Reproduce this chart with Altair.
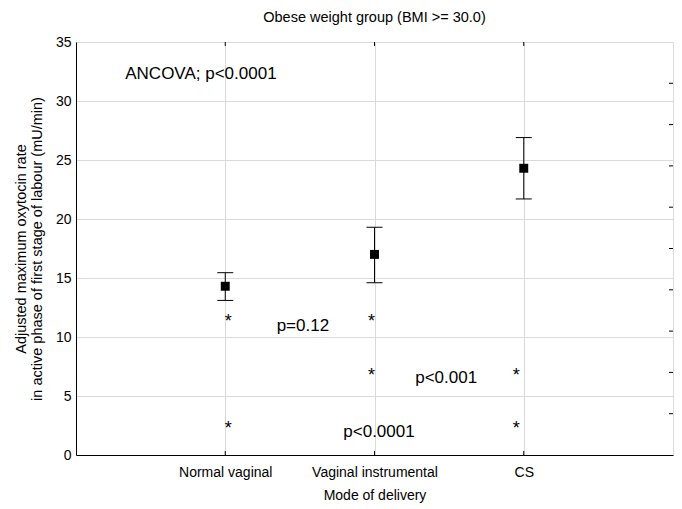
import altair as alt
import pandas as pd

# ---------------- data ----------------
categories = ["Normal vaginal", "Vaginal instrumental", "CS"]
cat_pos = [1, 2, 3]
means = [14.3, 17.0, 24.3]
lower_ci = [13.1, 14.6, 21.7]
upper_ci = [15.45, 19.3, 26.9]

star_x = [1.02, 1.02, 1.98, 1.98, 2.95, 2.95]
star_y = [11.7, 2.6, 11.7, 7.15, 7.15, 2.6]

p_text = ["p=0.12", "p<0.001", "p<0.0001"]
p_x = [1.52, 2.48, 2.03]
p_y = [10.5, 6.1, 1.55]

ancova_text = ["ANCOVA; p<0.0001"]
ancova_x = [0.33]
ancova_y = [31.85]

y_tick_values = [0, 5, 10, 15, 20, 25, 30, 35]
right_tick_values = [3.5, 7.0, 10.5, 14.0, 17.5, 21.0, 24.5, 28.0, 31.5]

title_text = "Obese weight group (BMI >= 30.0)"
x_title = "Mode of delivery"
y_title = ["Adjusted maximum oxytocin rate",
           "in active phase of first stage of labour (mU/min)"]

# ---------------- layout / style ----------------
W, H = 597, 413
FONT = "Liberation Sans"
GRID = "#dadada"

label_expr = " : ".join(
    f"datum.value == {p} ? '{c}'" for p, c in zip(cat_pos, categories)
) + " : ''"

x_axis = alt.Axis(values=cat_pos, labelExpr=label_expr, title=x_title,
                  grid=True, gridColor=GRID, gridWidth=1, ticks=False,
                  domainColor="black", labelPadding=10, labelFontSize=14,
                  labelFont=FONT, labelColor="black", titleFont=FONT,
                  titleFontSize=14, titleFontWeight="normal", titleColor="black",
                  titleBaseline="top", titleY=33, labelFlush=False)
y_axis = alt.Axis(values=y_tick_values, title=y_title, grid=True,
                  gridColor=GRID, gridWidth=1, ticks=False, domainColor="black",
                  labelPadding=5, labelFontSize=14, labelFont=FONT,
                  labelColor="black", titleFont=FONT, titleFontSize=14.5,
                  titleFontWeight="normal", titleColor="black",
                  titleAngle=-90, titleBaseline="top", titleAlign="center",
                  titleX=-62, titleY=H / 2, titleLineHeight=16, labelFlush=False)

x_scale = alt.Scale(domain=[0, 4], nice=False, zero=False)
y_scale = alt.Scale(domain=[0, 35], nice=False, zero=False)


def X(field="x"):
    return alt.X(f"{field}:Q", scale=x_scale, axis=x_axis)


def Y(field="y"):
    return alt.Y(f"{field}:Q", scale=y_scale, axis=y_axis)


pts = pd.DataFrame({"x": cat_pos, "y": means, "lo": lower_ci, "hi": upper_ci})
stars = pd.DataFrame({"x": star_x, "y": star_y})
ptxt = pd.DataFrame({"x": p_x, "y": p_y, "t": p_text})
anc = pd.DataFrame({"x": ancova_x, "y": ancova_y, "t": ancova_text})
rticks = pd.DataFrame({"y": right_tick_values})
cticks = pd.DataFrame({"x": cat_pos})

bars = alt.Chart(pts).mark_rule(color="black", strokeWidth=1).encode(
    x=X(), y=Y("lo"), y2="hi")
cap_lo = alt.Chart(pts).mark_tick(color="black", orient="horizontal",
                                  size=16, thickness=1, opacity=1).encode(
    x=X(), y=Y("lo"))
cap_hi = alt.Chart(pts).mark_tick(color="black", orient="horizontal",
                                  size=16, thickness=1, opacity=1).encode(
    x=X(), y=Y("hi"))
squares = alt.Chart(pts).mark_square(color="black", size=80, opacity=1,
                                     filled=True).encode(x=X(), y=Y())

star_marks = alt.Chart(stars).mark_text(text="*", font=FONT, fontSize=18,
                                        baseline="middle", align="center",
                                        dy=5, color="black").encode(
    x=X(), y=Y())
p_marks = alt.Chart(ptxt).mark_text(font=FONT, fontSize=17, align="center",
                                    baseline="alphabetic", color="black").encode(
    x=X(), y=Y(), text="t:N")
anc_mark = alt.Chart(anc).mark_text(font=FONT, fontSize=17, align="left",
                                    baseline="alphabetic", color="black").encode(
    x=X(), y=Y(), text="t:N")

right_ticks = alt.Chart(rticks).mark_rule(color="black", strokeWidth=1).encode(
    y=Y(), x=alt.value(W - 4), x2=alt.value(W))
top_ticks = alt.Chart(cticks).mark_rule(color="black", strokeWidth=1).encode(
    x=X(), y=alt.value(0), y2=alt.value(4))
bottom_ticks = alt.Chart(cticks).mark_rule(color="black", strokeWidth=1).encode(
    x=X(), y=alt.value(H - 4), y2=alt.value(H))

chart = alt.layer(
    bars, cap_lo, cap_hi, squares, star_marks, p_marks, anc_mark,
    right_ticks, top_ticks, bottom_ticks
).properties(
    width=W, height=H,
    title=alt.TitleParams(title_text, font=FONT, fontSize=14.5,
                          fontWeight="normal", color="black", anchor="middle",
                          frame="group", offset=10),
    autosize=alt.AutoSizeParams(type="none"),
    padding={"left": 68, "top": 34, "right": 1, "bottom": 52},
).configure_view(stroke="black", strokeWidth=1).configure(background="white")

chart.save("out.html", embed_options={"renderer": "svg", "actions": False})
